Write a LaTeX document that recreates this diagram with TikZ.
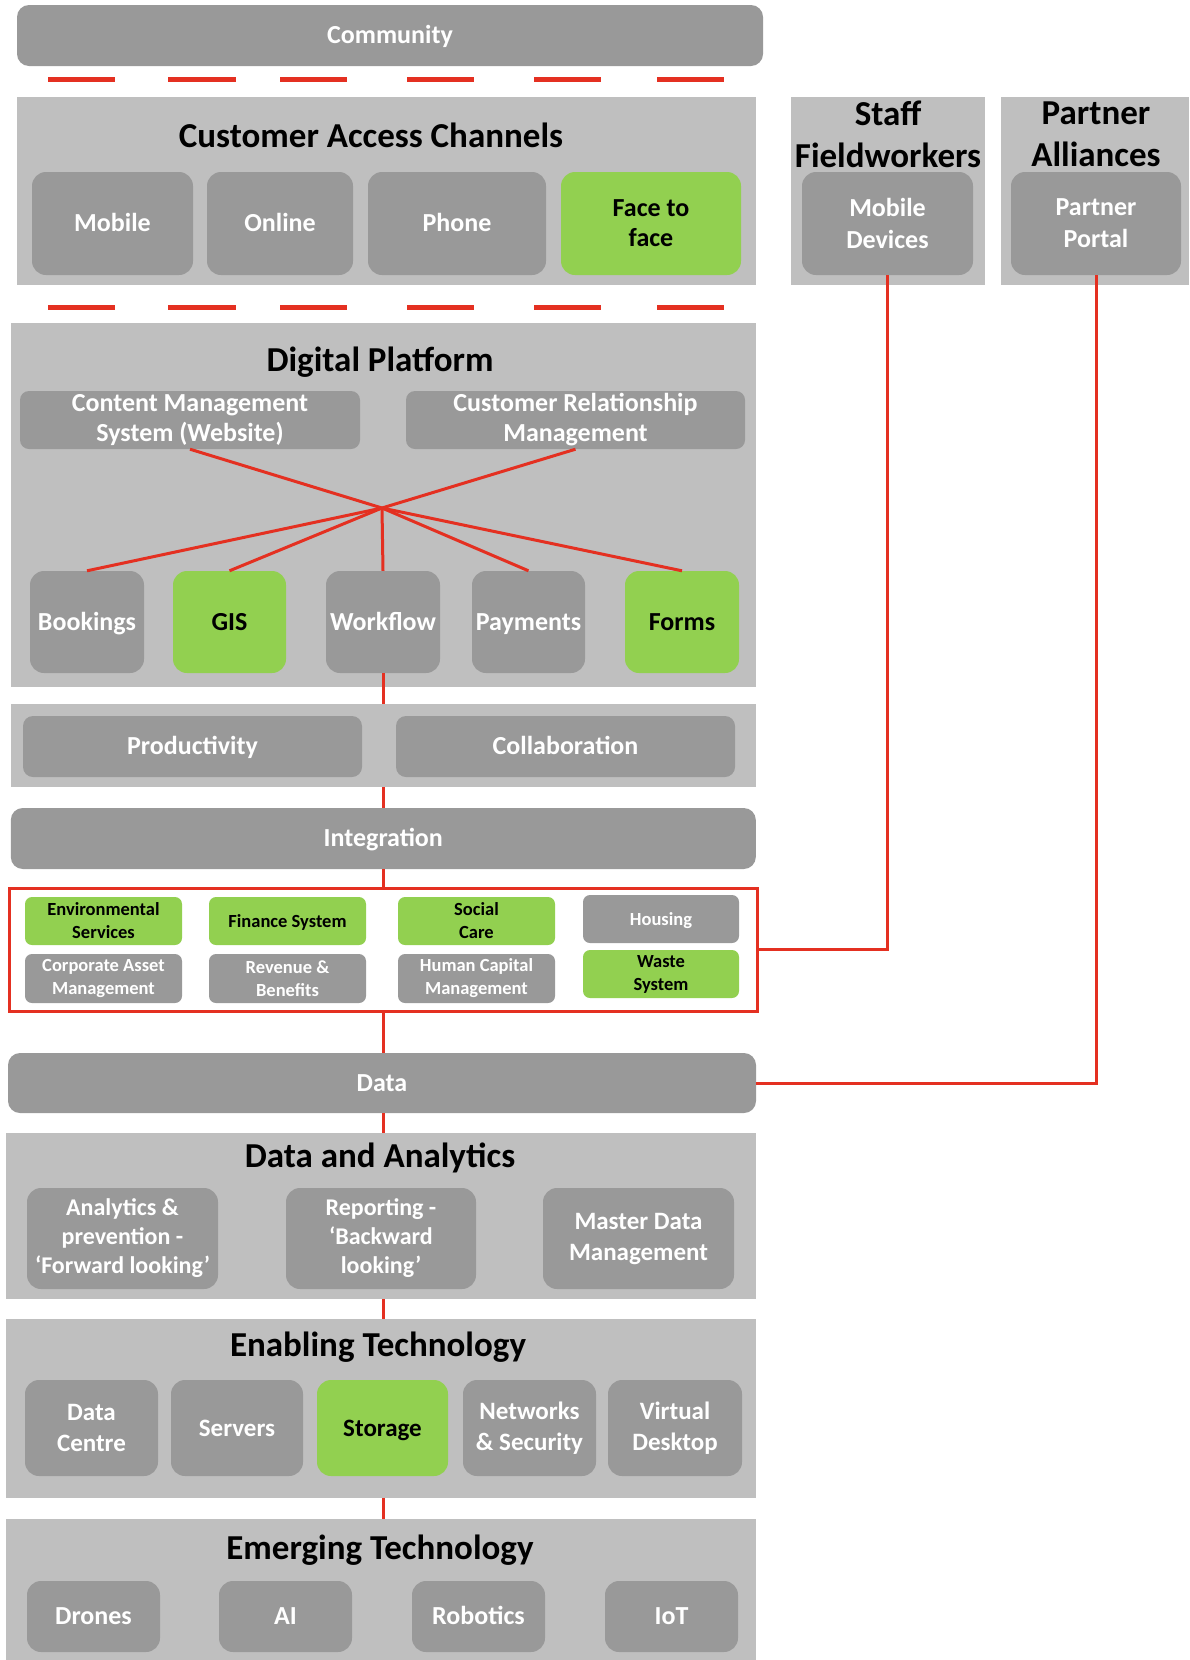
\documentclass[tikz,border=0pt]{standalone}
\usepackage{fontspec}
\setmainfont{Carlito}
\usepackage{tikz}

\definecolor{panelgray}{RGB}{191,191,191}
\definecolor{tilegray}{RGB}{153,153,153}
\definecolor{leafgreen}{RGB}{146,208,80}
\definecolor{linkred}{RGB}{228,48,33}
\newcommand{\sizefont}[2]{\bfseries\fontsize{#1}{#2}\selectfont}

\begin{document}
\begin{tikzpicture}[x=1pt,y=1pt,yscale=-1,
    panel/.style={fill=panelgray, draw=none, inner sep=0pt},
    tile/.style={fill=tilegray, draw=none, rounded corners=14pt, text=white, align=center, inner sep=0pt, font=\sizefont{26}{32}},
    greentile/.style={tile, fill=leafgreen, text=black},
    oneline/.style={text height=16.5pt, text depth=0pt},
    smalltile/.style={rounded corners=7pt, font=\sizefont{18.5}{23}},
    smalloneline/.style={text height=12pt, text depth=0pt},
    heading/.style={font=\sizefont{35}{42}, align=center, inner sep=0pt},
    link/.style={draw=linkred, line width=3pt},
    reddash/.style={draw=linkred, line width=5pt}]
        \useasboundingbox (0,0) rectangle (1189,1660);

        %Shape: Community bar
        \node [tile, oneline, rounded corners=12pt, minimum width=746pt, minimum height=61pt] (community) at (390,35.5) {Community};

        %Straight Lines: red dashes above and below the access channels
        \foreach \a/\b in {48/115,168/236,280/347,407/474,534/601,657/724} {
            \draw [reddash] (\a,79) -- (\b,79);
            \draw [reddash] (\a,307) -- (\b,307);
        }

        %Shape: Customer Access Channels
        \node [panel, minimum width=739pt, minimum height=188pt] (cacpanel) at (386.5,191) {};
        \node [heading] (cactitle) at (371,135) {Customer Access Channels};
        \node [tile, oneline, minimum width=161pt, minimum height=103pt] (mobile) at (112.5,223.5) {Mobile};
        \node [tile, oneline, minimum width=146pt, minimum height=103pt] (online) at (280,223.5) {Online};
        \node [tile, oneline, minimum width=178pt, minimum height=103pt] (phone) at (457,223.5) {Phone};
        \node [greentile, minimum width=180pt, minimum height=103pt, font=\sizefont{26}{30}] (face) at (651,223.5) {Face to\\face};

        %Shape: Staff Fieldworkers
        \node [panel, minimum width=194pt, minimum height=188pt] (staffpanel) at (888,191) {};
        \node [heading] (stafftitle) at (888,134) {Staff\\Fieldworkers};
        \node [tile, minimum width=171pt, minimum height=103pt] (devices) at (887.5,223.5) {Mobile\\Devices};

        %Shape: Partner Alliances
        \node [panel, minimum width=188pt, minimum height=188pt] (partnerpanel) at (1095,191) {};
        \node [heading] (partnertitle) at (1096,134) {Partner\\Alliances};
        \node [tile, minimum width=170pt, minimum height=103pt] (portal) at (1096,223.5) {Partner\\Portal};

        %Shape: Digital Platform
        \node [panel, minimum width=745pt, minimum height=364pt] (dppanel) at (383.5,505) {};
        \node [heading] (dptitle) at (380,362) {Digital Platform};
        \node [tile, rounded corners=9pt, minimum width=340pt, minimum height=58pt, font=\sizefont{26}{30}] (cms) at (190,420) {Content Management\\System (Website)};
        \node [tile, rounded corners=9pt, minimum width=339pt, minimum height=58pt, font=\sizefont{26}{30}] (crm) at (575.5,420) {Customer Relationship\\Management};
        \node [tile, oneline, minimum width=114pt, minimum height=102pt] (bookings) at (87,622) {Bookings};
        \node [greentile, oneline, minimum width=113pt, minimum height=102pt] (gis) at (229.5,622) {GIS};
        \node [tile, oneline, minimum width=114pt, minimum height=102pt] (wf) at (383,622) {Workflow};
        \node [tile, oneline, minimum width=113pt, minimum height=102pt] (payments) at (528.5,622) {Payments};
        \node [greentile, oneline, minimum width=114pt, minimum height=102pt] (forms) at (682,622) {Forms};
        \coordinate (hub) at (382,508);

        %Shape: Productivity and Collaboration
        \node [panel, minimum width=745pt, minimum height=83pt] (prodpanel) at (383.3,745.5) {};
        \node [tile, oneline, rounded corners=10pt, minimum width=339pt, minimum height=61pt] (productivity) at (192.5,746.5) {Productivity};
        \node [tile, oneline, rounded corners=10pt, minimum width=339pt, minimum height=61pt] (collab) at (565.5,746.5) {Collaboration};

        %Shape: Integration
        \node [tile, oneline, rounded corners=12pt, minimum width=745pt, minimum height=61pt] (integ) at (383.3,838.5) {Integration};

        %Shape: Line-of-business systems
        \node [draw=linkred, line width=3pt, minimum width=748pt, minimum height=123pt] (sysbox) at (383,949.5) {};
        \node [greentile, smalltile, minimum width=157pt, minimum height=48pt] (envserv) at (103.5,921) {Environmental\\Services};
        \node [greentile, smalltile, smalloneline, minimum width=157pt, minimum height=48pt] (finance) at (287.5,921) {Finance System};
        \node [greentile, smalltile, minimum width=157pt, minimum height=48pt] (social) at (476.5,921) {Social\\Care};
        \node [tile, smalltile, smalloneline, minimum width=156pt, minimum height=48pt] (housing) at (661,919) {Housing};
        \node [tile, smalltile, minimum width=157pt, minimum height=49pt] (asset) at (103.5,978.5) {Corporate Asset\\Management};
        \node [tile, smalltile, minimum width=157pt, minimum height=49pt] (revenue) at (287.5,978.5) {Revenue \&\\Benefits};
        \node [tile, smalltile, minimum width=157pt, minimum height=49pt] (hcm) at (476.5,978.5) {Human Capital\\Management};
        \node [greentile, smalltile, minimum width=156pt, minimum height=48pt] (waste) at (661,974) {Waste\\System};

        %Shape: Data
        \node [tile, oneline, rounded corners=12pt, minimum width=748pt, minimum height=60pt] (data) at (382,1083) {Data};

        %Shape: Data and Analytics
        \node [panel, minimum width=750pt, minimum height=166pt] (dapanel) at (381,1216) {};
        \node [heading] (datitle) at (380,1158) {Data and Analytics};
        \node [tile, minimum width=191pt, minimum height=101pt, font=\sizefont{24}{29}] (analytics) at (122.5,1238.5) {Analytics \&\\prevention -\\‘Forward looking’};
        \node [tile, minimum width=190pt, minimum height=101pt, font=\sizefont{24}{29}] (reporting) at (381,1238.5) {Reporting -\\‘Backward\\looking’};
        \node [tile, minimum width=191pt, minimum height=101pt, font=\sizefont{25}{31}] (mdm) at (638.5,1238.5) {Master Data\\Management};

        %Shape: Enabling Technology
        \node [panel, minimum width=750pt, minimum height=179pt] (etpanel) at (381,1408.5) {};
        \node [heading] (ettitle) at (378,1347) {Enabling Technology};
        \node [tile, minimum width=133pt, minimum height=96pt, font=\sizefont{25}{31}] (centre) at (91.5,1428) {Data\\Centre};
        \node [tile, oneline, minimum width=132pt, minimum height=96pt, font=\sizefont{25}{31}] (servers) at (237,1428) {Servers};
        \node [greentile, oneline, minimum width=131pt, minimum height=96pt, font=\sizefont{25}{31}] (storage) at (382.5,1428) {Storage};
        \node [tile, minimum width=133pt, minimum height=96pt, font=\sizefont{25}{31}] (networks) at (529.5,1428) {Networks\\\& Security};
        \node [tile, minimum width=134pt, minimum height=96pt, font=\sizefont{25}{31}] (virtual) at (675,1428) {Virtual\\Desktop};

        %Shape: Emerging Technology
        \node [panel, minimum width=750pt, minimum height=141pt] (emgpanel) at (381,1589.5) {};
        \node [heading] (emgtitle) at (380,1550) {Emerging Technology};
        \node [tile, oneline, minimum width=133pt, minimum height=71pt] (drones) at (93.5,1616.5) {Drones};
        \node [tile, oneline, minimum width=133pt, minimum height=71pt] (ai) at (285.5,1616.5) {AI};
        \node [tile, oneline, minimum width=133pt, minimum height=71pt] (robotics) at (478.5,1616.5) {Robotics};
        \node [tile, oneline, minimum width=133pt, minimum height=71pt] (iot) at (671.5,1616.5) {IoT};

        %Straight Lines: platform star
        \draw [link] (cms.south) -- (hub) -- (crm.south);
        \foreach \t in {bookings,gis,wf,payments,forms}
            \draw [link] (hub) -- (\t.north);

        %Straight Lines: spine
        \draw [link] (wf.south) -- (wf.south |- prodpanel.north);
        \draw [link] (wf.south |- prodpanel.south) -- (wf.south |- integ.north);
        \draw [link] (wf.south |- integ.south) -- (wf.south |- sysbox.north);
        \draw [link] (wf.south |- sysbox.south) -- (wf.south |- data.north);
        \draw [link] (wf.south |- data.south) -- (wf.south |- dapanel.north);
        \draw [link] (wf.south |- dapanel.south) -- (wf.south |- etpanel.north);
        \draw [link] (wf.south |- etpanel.south) -- (wf.south |- emgpanel.north);

        %Straight Lines: staff and partner links
        \draw [link] (sysbox.east) -| (devices.south);
        \draw [link] (data.east) -| (portal.south);

    \end{tikzpicture}
\end{document}
